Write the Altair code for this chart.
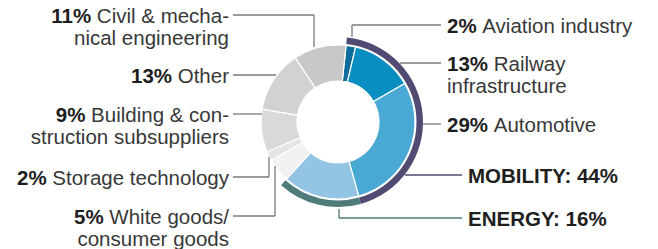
import math
import altair as alt
import pandas as pd

# ---------------- data ----------------
segments = ["Aviation industry", "Railway infrastructure", "Automotive", "Energy",
            "White goods/consumer goods", "Storage technology",
            "Building & construction subsuppliers", "Other",
            "Civil & mechanical engineering"]
shares = [2, 13, 29, 16, 5, 2, 9, 13, 11]

groups = ["MOBILITY", "ENERGY"]
group_shares = [44, 16]

label_pct = ["2%", "13%", "29%", "", "5%", "2%", "9%", "13%", "11%"]
label_line1 = ["Aviation industry", "Railway", "Automotive", "", "White goods/",
               "Storage technology", "Building & con-", "Other", "Civil & mecha-"]
label_line2 = ["", "infrastructure", "", "", "consumer goods", "",
               "struction subsuppliers", "", "nical engineering"]

# ---------------- style / layout ----------------
seg_colors = ["#0d6c9c", "#0a8dc0", "#4aa8d4", "#92c5e3", "#f1f1f1",
              "#e4e4e4", "#d9d9d9", "#d2d2d2", "#c8c8c8"]
group_colors = ["#514a72", "#4f7c7a"]

W, H = 642, 241
CX, CY = 338, 122          # donut centre (page px)
R_IN, R_OUT = 41, 77
G_IN, G_OUT = 78.5, 85
OFFSET = 0.105             # rotation of the ring start
FS = 20.5
LH = 22
TEXT_GRAY = "#383838"
BOLD_COL = "#1e1e1e"
LINE_GRAY = "#7a7a7a"

# label side, leader line y, leader polyline (page px)
label_layout = {
    "Aviation industry": ("R", 25, [(352, 37), (352, 25), (441, 25)]),
    "Railway infrastructure": ("R", 63, [(400, 63), (441, 63)]),
    "Automotive": ("R", 124, [(423, 124), (441, 124)]),
    "White goods/consumer goods": ("L", 216, [(233, 216), (275, 216), (275, 166)]),
    "Storage technology": ("L", 177, [(233, 177), (269, 177), (269, 157)]),
    "Building & construction subsuppliers": ("L", 114, [(233, 114), (262, 114)]),
    "Other": ("L", 75, [(233, 75), (276, 75)]),
    "Civil & mechanical engineering": ("L", 15.5, [(233, 15), (314, 15), (314, 47)]),
}
group_layout = {
    "MOBILITY": (175, [(405, 175), (462, 175)]),
    "ENERGY": (218, [(339, 209), (339, 218), (462, 218)]),
}
LEFT_X, RIGHT_X, GROUP_X = 229, 447, 468

# Helvetica / Arial advance widths (1/1000 em)
REG = {' ': 278, '&': 667, '-': 333, '/': 278, ':': 278, '%': 889,
       'A': 667, 'B': 667, 'C': 722, 'O': 778, 'R': 722, 'S': 667, 'W': 944,
       'a': 556, 'b': 556, 'c': 500, 'd': 556, 'e': 556, 'f': 278, 'g': 556,
       'h': 556, 'i': 222, 'l': 222, 'm': 833, 'n': 556, 'o': 556, 'p': 556,
       'r': 333, 's': 500, 't': 278, 'u': 556, 'v': 500, 'w': 722, 'y': 500}
BOLD = {'%': 889, ' ': 278}
for d in "0123456789":
    REG[d] = 556
    BOLD[d] = 556


def width(s, table):
    return sum(table.get(ch, 556) for ch in s) * FS / 1000.0


# ---------------- tables ----------------
seg_df = pd.DataFrame({"segment": segments, "share": shares,
                       "idx": list(range(len(segments)))})
grp_df = pd.DataFrame({"group": groups, "share": group_shares,
                       "idx": list(range(len(groups)))})

bold_rows, reg_rows, rule_rows = [], [], []
for i, seg in enumerate(segments):
    if seg not in label_layout:
        continue
    side, ly, poly = label_layout[seg]
    yb = ly + 7.5
    pct, t1, t2 = label_pct[i], label_line1[i], label_line2[i]
    if side == "L":
        reg_rows.append({"x": LEFT_X, "y": yb, "t": t1, "a": "right"})
        bold_rows.append({"x": LEFT_X - width(" " + t1, REG), "y": yb, "t": pct, "a": "right"})
        if t2:
            reg_rows.append({"x": LEFT_X, "y": yb + LH, "t": t2, "a": "right"})
    else:
        bold_rows.append({"x": RIGHT_X, "y": yb, "t": pct, "a": "left"})
        reg_rows.append({"x": RIGHT_X + width(pct + " ", BOLD), "y": yb, "t": t1, "a": "left"})
        if t2:
            reg_rows.append({"x": RIGHT_X, "y": yb + LH, "t": t2, "a": "left"})
    for (x1, y1), (x2, y2) in zip(poly[:-1], poly[1:]):
        rule_rows.append({"x": x1, "y": y1, "x2": x2, "y2": y2, "c": LINE_GRAY})

grp_text = []
for g, s, col in zip(groups, group_shares, group_colors):
    ly, poly = group_layout[g]
    grp_text.append({"x": GROUP_X, "y": ly + 7.5, "t": f"{g}: {s}%"})
    for (x1, y1), (x2, y2) in zip(poly[:-1], poly[1:]):
        rule_rows.append({"x": x1, "y": y1, "x2": x2, "y2": y2, "c": col})

xs = alt.Scale(domain=[8, 8 + W], nice=False, zero=False)
ys = alt.Scale(domain=[8, 8 + H], nice=False, zero=False, reverse=True)
theta_scale = alt.Scale(domain=[0, 100], range=[OFFSET, OFFSET + 2 * math.pi])

donut = alt.Chart(seg_df).mark_arc(
    innerRadius=R_IN, outerRadius=R_OUT, stroke="white", strokeWidth=1.2
).encode(
    theta=alt.Theta("share:Q", stack=True, scale=theta_scale),
    color=alt.Color("segment:N", scale=alt.Scale(domain=segments, range=seg_colors), legend=None),
    order=alt.Order("idx:Q"),
    x=alt.value(CX - 8), y=alt.value(CY - 8),
)

ring = alt.Chart(grp_df).mark_arc(
    innerRadius=G_IN, outerRadius=G_OUT
).encode(
    theta=alt.Theta("share:Q", stack=True, scale=theta_scale),
    fill=alt.Fill("group:N", scale=alt.Scale(domain=groups, range=group_colors), legend=None),
    order=alt.Order("idx:Q"),
    x=alt.value(CX - 8), y=alt.value(CY - 8),
)

rules = alt.Chart(pd.DataFrame(rule_rows)).mark_rule(strokeWidth=1.3).encode(
    x=alt.X("x:Q", scale=xs, axis=None), y=alt.Y("y:Q", scale=ys, axis=None),
    x2="x2:Q", y2="y2:Q",
    color=alt.Color("c:N", scale=None),
)


def text_layer(rows, align, weight, col):
    df = pd.DataFrame([r for r in rows if r.get("a", align) == align])
    return alt.Chart(df).mark_text(
        align=align, baseline="alphabetic", font="Liberation Sans",
        fontSize=FS, fontWeight=weight, color=col
    ).encode(
        x=alt.X("x:Q", scale=xs, axis=None), y=alt.Y("y:Q", scale=ys, axis=None),
        text="t:N",
    )


layers = [donut, ring, rules,
          text_layer(reg_rows, "right", "normal", TEXT_GRAY),
          text_layer(reg_rows, "left", "normal", TEXT_GRAY),
          text_layer(bold_rows, "right", "bold", BOLD_COL),
          text_layer(bold_rows, "left", "bold", BOLD_COL),
          text_layer(grp_text, "left", "bold", BOLD_COL)]

chart = alt.layer(*layers).resolve_scale(color="independent", fill="independent").properties(
    width=W, height=H, padding=0,
    autosize=alt.AutoSizeParams(type="none"),
).configure_view(stroke=None)

chart.save("out.html", embed_options={"renderer": "svg", "actions": False})
